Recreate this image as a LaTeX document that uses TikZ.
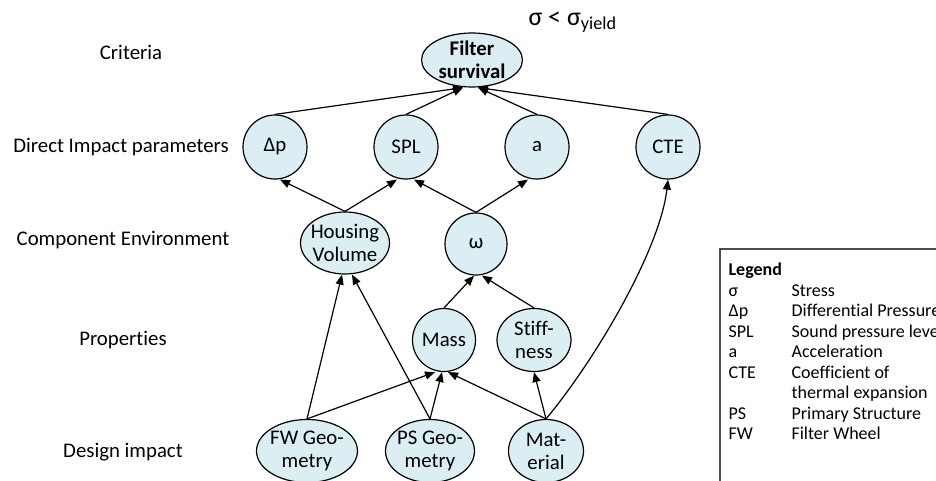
\documentclass[tikz,border=0pt]{standalone}
\usepackage{fontspec}
\setmainfont{Carlito}[Ligatures=NoCommon]
\usetikzlibrary{shapes.geometric,arrows.meta,positioning}
\definecolor{nodeblue}{HTML}{DAEEF3}

\tikzstyle{param} = [circle, minimum size=32pt, inner sep=0pt, text centered, draw=black, fill=nodeblue]
\tikzstyle{oval} = [ellipse, minimum height=31.5pt, inner xsep=-1.5pt, inner ysep=0pt, align=center, draw=black, fill=nodeblue]
\tikzstyle{level} = [text centered]
\tikzstyle{legendText} = [anchor=base west, inner sep=0pt, font=\fontsize{9}{10}\selectfont]
\tikzstyle{arrow} = [line width=0.6pt, -{Triangle[length=5pt,width=4pt]}]

\begin{document}
\fontsize{10.4}{11.5}\selectfont
\begin{tikzpicture}[x=0.5pt, y=-0.5pt, node distance=65.5pt, line width=0.6pt]
    \useasboundingbox (0,0) rectangle (936,481);
    \clip (0,0) rectangle (936,481);

    % levels
    \node (lCrit)[level] at (131,52) {Criteria};
    \node (lDirect)[level] at (121,147) {Direct Impact parameters};
    \node (lEnv)[level] at (123,240) {Component Environment};
    \node (lProp)[level] at (123,340) {Properties};
    \node (lDesign)[level] at (123,452) {Design impact};

    \node (fs)[oval, minimum width=50.5pt, minimum height=27pt, font=\bfseries] at (472,60) {Filter\\survival};
    \node (yield)[anchor=west, font=\fontsize{13}{15}\selectfont] at (521,22) {σ < σ\textsubscript{yield}};

    \node (dp)[param] at (275,147) {Δp};
    \node (spl)[param, right of=dp] {SPL};
    \node (acc)[param, right of=spl] {a};
    \node (cte)[param, right of=acc] {CTE};

    \node (hv)[oval, minimum width=44.5pt, minimum height=31pt] at (345,243) {Housing\\Volume};
    \node (om)[param, minimum size=31pt] at (476,244) {ω};

    \node (mass)[param, minimum size=31.5pt] at (444,340) {Mass};
    \node (stiff)[oval, minimum width=37pt] at (534,340) {Stiff-\\ness};

    \node (fw)[oval, minimum width=50.5pt] at (307,451) {FW Geo-\\metry};
    \node (ps)[oval, minimum width=44.5pt] at (430,451) {PS Geo-\\metry};
    \node (mat)[oval, minimum width=37.5pt] at (546,451) {Mat-\\erial};

    \draw [arrow] (dp.north) -- ([xshift=-4.5pt]fs.south);
    \draw [arrow] (spl.north) -- ([xshift=-4.5pt]fs.south);
    \draw [arrow] (acc.north) -- ([xshift=3pt]fs.south);
    \draw [arrow] (cte.north) -- ([xshift=3pt]fs.south);

    \draw [arrow] (hv.north) -- ([xshift=2.5pt]dp.south);
    \draw [arrow] (hv.north) -- ([xshift=-4.5pt]spl.south);
    \draw [arrow] (om.north) -- ([xshift=4pt]spl.south);
    \draw [arrow] (om.north) -- ([xshift=-4.5pt]acc.south);

    \draw [arrow] (mass.north) -- ([xshift=-1pt]om.south);
    \draw [arrow] (stiff.north) -- ([xshift=3pt]om.south);

    \draw [arrow] (fw.north) -- ([xshift=-1.5pt]hv.south);
    \draw [arrow] (ps.north) -- ([xshift=3.5pt]hv.south);
    \draw [arrow] (fw.north) -- ([xshift=-4.5pt]mass.south);
    \draw [arrow] (ps.north) -- ([xshift=-1pt]mass.south);
    \draw [arrow] (mat.north) -- ([xshift=2pt]mass.south);
    \draw [arrow] (mat.north) -- (stiff.south);
    \draw [arrow] (mat.north) .. controls +(50,-60) and +(-8,70) .. (cte.south);

    % legend
    \draw [draw=black!70] (720,249) rectangle (960,500);
    \node (legTitle)[legendText, font=\fontsize{9}{10}\selectfont\bfseries] at (728,275) {Legend};
    \node (kSigma)[legendText] at (728,296) {σ};
    \node (vSigma)[legendText] at (791,296) {Stress};
    \node (kDp)[legendText] at (728,316) {Δp};
    \node (vDp)[legendText] at (791,316) {Differential Pressure};
    \node (kSpl)[legendText] at (728,337) {SPL};
    \node (vSpl)[legendText] at (791,337) {Sound pressure level};
    \node (kAcc)[legendText] at (728,357) {a};
    \node (vAcc)[legendText] at (791,357) {Acceleration};
    \node (kCte)[legendText] at (728,378) {CTE};
    \node (vCte)[legendText] at (791,378) {Coefficient of};
    \node (vCte2)[legendText] at (791,398) {thermal expansion};
    \node (kPs)[legendText] at (728,419) {PS};
    \node (vPs)[legendText] at (791,419) {Primary Structure};
    \node (kFw)[legendText] at (728,439) {FW};
    \node (vFw)[legendText] at (791,439) {Filter Wheel};
  \end{tikzpicture}
\end{document}
